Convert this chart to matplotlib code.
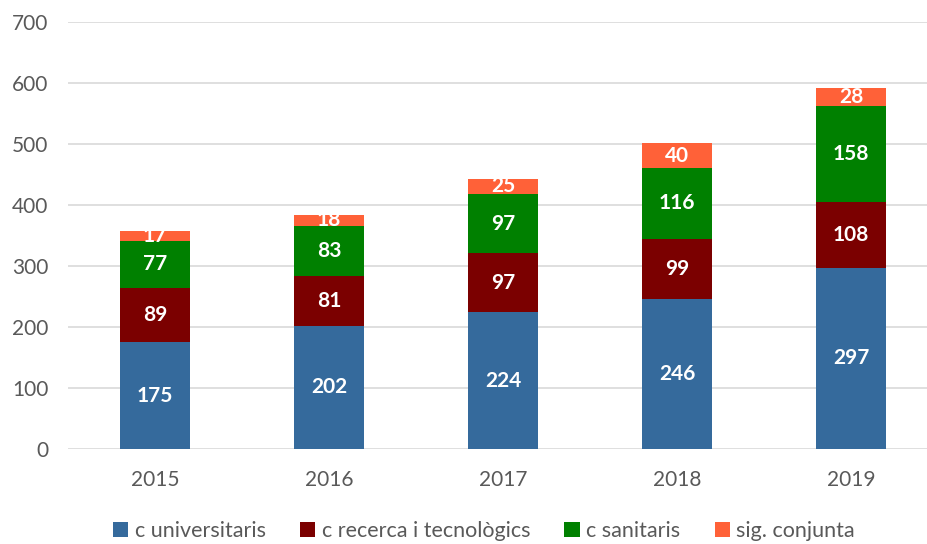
import matplotlib.pyplot as plt
import numpy as np

years = ['2015', '2016', '2017', '2018', '2019']
univ = [175, 202, 224, 246, 297]
recerca = [89, 81, 97, 99, 108]
sanit = [77, 83, 97, 116, 158]
sig = [17, 18, 25, 40, 28]

series = [
    ('c universitaris', univ, '#356A9C'),
    ('c recerca i tecnològics', recerca, '#7B0000'),
    ('c sanitaris', sanit, '#008000'),
    ('sig. conjunta', sig, '#FF6138'),
]

plt.rcParams['font.family'] = ['Lato', 'DejaVu Sans']

fig = plt.figure(figsize=(9.27, 5.44), dpi=100)
ax = fig.add_axes([68 / 927, 95 / 544, 870 / 927, 427 / 544])

x = np.arange(len(years))
bottom = np.zeros(len(years))
for name, vals, col in series:
    bars = ax.bar(x, vals, 0.4, bottom=bottom, color=col, label=name, zorder=3)
    ax.bar_label(bars, labels=[str(v) for v in vals], label_type='center',
                 color='white', fontsize=15, fontweight='bold')
    bottom += np.array(vals)

ax.set_xlim(-0.5, 4.5)
ax.set_ylim(0, 700)
ax.set_yticks(range(0, 701, 100))
ax.set_xticks(x)
ax.set_xticklabels(years)
ax.yaxis.grid(True, color='#D9D9D9', linewidth=1.2, zorder=0)
for s in ax.spines.values():
    s.set_visible(False)
ax.tick_params(axis='both', length=0, labelsize=15, colors='#595959')
ax.tick_params(axis='x', pad=15)
ax.tick_params(axis='y', pad=14)

fig.legend(loc='lower center', bbox_to_anchor=(0.522, -0.03), ncol=4, frameon=False,
           fontsize=15.5, labelcolor='#595959', handlelength=0.7, handleheight=0.7,
           handletextpad=0.3, columnspacing=1.6)

fig.savefig('out.png', dpi=100)
